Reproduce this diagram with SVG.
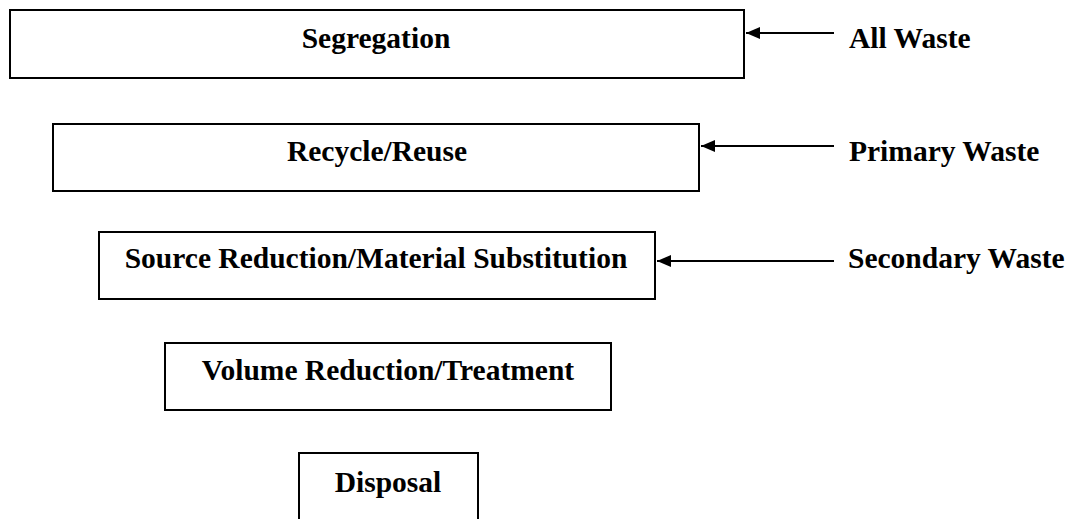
<svg xmlns="http://www.w3.org/2000/svg" width="1067" height="519" viewBox="0 0 1067 519">
<style>
.box{fill:#fff;stroke:#000;stroke-width:2}
.t{font-family:"Liberation Serif","Times New Roman",serif;font-weight:bold;font-size:29.5px;fill:#000}
.c{text-anchor:middle}
.conn line{stroke:#000;stroke-width:2}
</style>
<defs>
<marker id="ah" markerWidth="14" markerHeight="12" refX="14" refY="6" orient="auto" markerUnits="userSpaceOnUse">
<path d="M0,0 L14,6 L0,12 Z" fill="#000"/>
</marker>
</defs>
<rect width="1067" height="519" fill="#fff"/>
<g id="segregation">
<rect class="box" x="10" y="10" width="734" height="68"/>
<text class="t c" x="376" y="48">Segregation</text>
</g>
<g id="recycle">
<rect class="box" x="53" y="124" width="646" height="67"/>
<text class="t c" x="377" y="161">Recycle/Reuse</text>
</g>
<g id="source">
<rect class="box" x="99" y="232" width="556" height="67"/>
<text class="t c" x="376" y="268">Source Reduction/Material Substitution</text>
</g>
<g id="volume">
<rect class="box" x="165" y="343" width="446" height="67"/>
<text class="t c" x="388" y="380">Volume Reduction/Treatment</text>
</g>
<g id="disposal">
<rect class="box" x="299" y="453" width="179" height="80"/>
<text class="t c" x="388" y="492">Disposal</text>
</g>
<g id="label-all">
<text class="t" x="849" y="48">All Waste</text>
</g>
<g id="label-primary">
<text class="t" x="849" y="161">Primary Waste</text>
</g>
<g id="label-secondary">
<text class="t" x="848" y="268">Secondary Waste</text>
</g>
<g class="conn" id="connectors">
<line x1="834" y1="33" x2="746" y2="33" marker-end="url(#ah)"/>
<line x1="834" y1="146" x2="701" y2="146" marker-end="url(#ah)"/>
<line x1="834" y1="261" x2="657" y2="261" marker-end="url(#ah)"/>
</g>
</svg>
